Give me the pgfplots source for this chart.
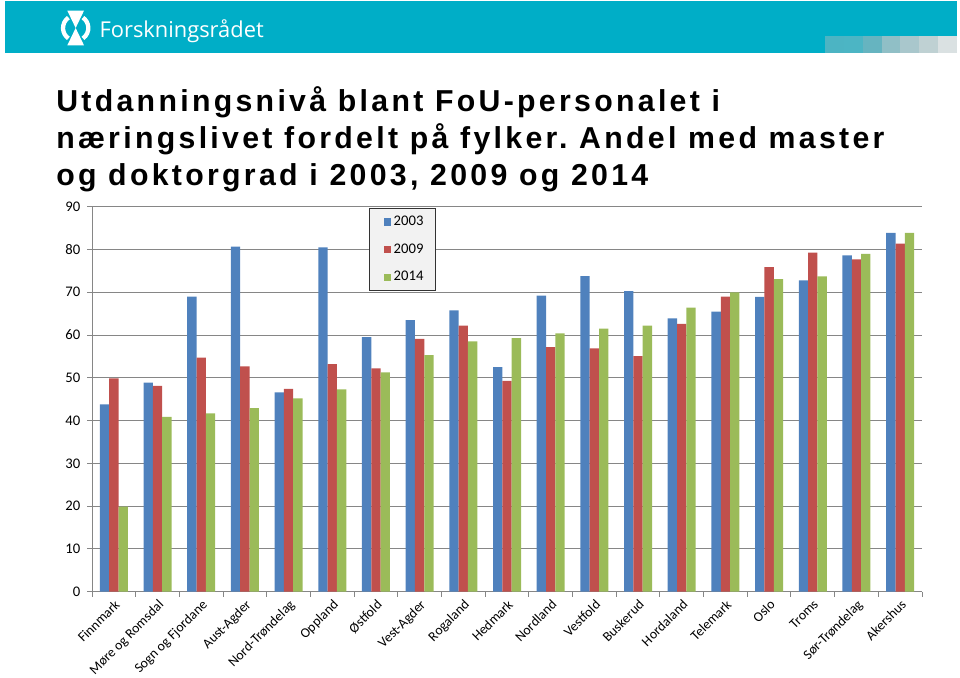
\documentclass[border=0pt]{standalone}
\usepackage{pgfplots}
\pgfplotsset{compat=1.18}
\usepackage{pgfplotstable}
\usepackage{fontspec}
\setmainfont{Carlito}
\newfontfamily\titlefont[LetterSpace=10.9]{Liberation Sans}
\newfontfamily\logofont{Open Sans}
\definecolor{banner}{RGB}{0,174,199}
\definecolor{cblue}{RGB}{79,129,189}
\definecolor{cred}{RGB}{192,80,77}
\definecolor{cgreen}{RGB}{155,187,89}
\definecolor{gridgray}{RGB}{134,134,134}
\definecolor{legfill}{RGB}{242,242,242}

\pgfplotstableread{
x y2003 y2009 y2014
0 43.8 49.9 19.9
1 48.9 48.1 40.9
2 69.0 54.7 41.7
3 80.7 52.7 42.9
4 46.6 47.4 45.2
5 80.5 53.2 47.3
6 59.5 52.2 51.3
7 63.5 59.1 55.3
8 65.8 62.2 58.5
9 52.5 49.3 59.3
10 69.2 57.2 60.4
11 73.8 56.9 61.5
12 70.3 55.1 62.2
13 63.9 62.6 66.4
14 65.5 69.0 70.0
15 68.9 75.9 73.1
16 72.8 79.3 73.7
17 78.6 77.7 79.0
18 83.9 81.4 83.9
}\datatable

\begin{document}
\frenchspacing
\begin{tikzpicture}
\path[use as bounding box] (0pt,0pt) rectangle (720pt,508.5pt);
% banner
\fill[banner] (3.75pt,468.75pt) rectangle (717.75pt,507.75pt);
\fill[banner!85!black!70!white] (618.75pt,468.75pt) rectangle (632.9pt,481.5pt);
\fill[banner!75!gray!80!white] (632.9pt,468.75pt) rectangle (647.0pt,481.5pt);
\fill[banner!60!gray!75!white] (647.0pt,468.75pt) rectangle (661.2pt,481.5pt);
\fill[banner!45!gray!60!white] (661.2pt,468.75pt) rectangle (675.3pt,481.5pt);
\fill[banner!35!gray!50!white] (675.3pt,468.75pt) rectangle (689.5pt,481.5pt);
\fill[banner!25!gray!40!white] (689.5pt,468.75pt) rectangle (703.6pt,481.5pt);
\fill[banner!15!gray!25!white] (703.6pt,468.75pt) rectangle (717.75pt,481.5pt);
% logo
\fill[white] (50.5pt,500.5pt) -- (63pt,500.5pt) -- (56.75pt,487.5pt) -- cycle;
\fill[white] (50.5pt,474.5pt) -- (63pt,474.5pt) -- (56.75pt,487.5pt) -- cycle;
\draw[white, line width=3.2pt] (56.75pt,487.5pt) ++(125:9.5pt) arc (125:235:9.5pt);
\draw[white, line width=3.2pt] (56.75pt,487.5pt) ++(-55:9.5pt) arc (-55:55:9.5pt);
\node[anchor=base west, inner sep=0, text=white, font=\logofont\fontsize{16.4}{20}\selectfont] at (74.5pt,480.5pt) {Forskningsrådet};
% title
\node[anchor=base west, inner sep=0, font=\titlefont\bfseries\fontsize{22.7}{27}\selectfont] at (42pt,425pt) {Utdanningsnivå blant FoU-personalet i};
\node[anchor=base west, inner sep=0, font=\titlefont\bfseries\fontsize{22.7}{27}\selectfont] at (42pt,397pt) {næringslivet fordelt på fylker. Andel med master};
\node[anchor=base west, inner sep=0, font=\titlefont\bfseries\fontsize{22.7}{27}\selectfont] at (42pt,369pt) {og doktorgrad i 2003, 2009 og 2014};
\begin{axis}[
  at={(69pt,64.7pt)}, anchor=south west,
  scale only axis, width=622.5pt, height=288.75pt,
  ybar=0pt, bar width=7pt,
  xmin=-0.5, xmax=18.5, ymin=0, ymax=90,
  ytick={0,10,...,90},
  xtick={0,...,18},
  xticklabels={Finnmark,Møre og Romsdal,Sogn og Fjordane,Aust-Agder,Nord-Trøndelag,Oppland,Østfold,Vest-Agder,Rogaland,Hedmark,Nordland,Vestfold,Buskerud,Hordaland,Telemark,Oslo,Troms,Sør-Trøndelag,Akershus},
  minor xtick={-0.5,0.5,...,18.5},
  axis lines*=left,
  axis line style={gridgray, line width=0.75pt},
  ymajorgrids,
  grid style={gridgray, line width=0.75pt},
  tick align=outside,
  major tick length=3.75pt, minor tick length=3.75pt,
  tick style={gridgray, line width=0.75pt},
  every major x tick/.append style={draw=none},
  /pgf/number format/assume math mode=true,
  yticklabel style={font=\fontsize{11}{13}\selectfont, text=black, xshift=-1.5pt},
  xticklabel style={rotate=45, anchor=north east, inner sep=0.5pt, font=\fontsize{10.3}{12}\selectfont, text=black, xshift=-0.5pt, yshift=-0.5pt},
  legend style={at={(0.334,0.997)}, anchor=north west, fill=legfill, draw=black!80, line width=0.75pt,
    font=\fontsize{11}{13}\selectfont, row sep=8pt, inner xsep=7pt, inner ysep=4pt},
  legend cell align=left,
  legend image code/.code={\path (0pt,0pt); \fill[#1] (3.5pt,-2.75pt) rectangle (9pt,2.75pt);},
]
\addplot[fill=cblue, draw=none] table[x=x, y=y2003] {\datatable};
\addplot[fill=cred, draw=none] table[x=x, y=y2009] {\datatable};
\addplot[fill=cgreen, draw=none] table[x=x, y=y2014] {\datatable};
\legend{2003,2009,2014}
\end{axis}
\end{tikzpicture}
\end{document}
